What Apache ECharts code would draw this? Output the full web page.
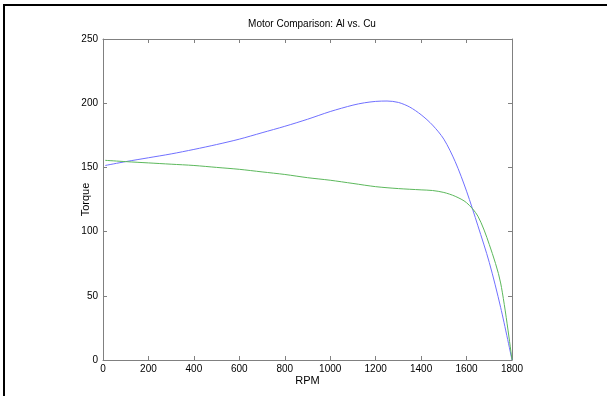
<!DOCTYPE html>
<html>
<head>
<meta charset="utf-8">
<script src="https://cdn.jsdelivr.net/npm/echarts@6/dist/echarts.min.js"></script>
<style>
html,body{margin:0;padding:0;background:#fff;}
#c{width:607px;height:396px;}
</style>
</head>
<body>
<div id="c"></div>
<script>
const rpmAl = [10,100,200,300,400,500,600,700,800,900,1000,1100,1150,1200,1250,1300,1350,1400,1450,1500,1550,1600,1650,1700,1750,1800];
const torqueAl = [151.5,154.5,157.5,160.5,164,167.8,172,177,182,187.5,193.5,198.5,200.3,201.4,201.7,200.6,197,191,183,172,154.5,131.5,104.5,76,41,0];
const rpmCu = [10,100,200,300,400,500,600,700,800,900,1000,1100,1200,1300,1400,1450,1500,1550,1600,1650,1700,1750,1800];
const torqueCu = [155.5,154.5,153.5,152.5,151.5,150,148.5,146.5,144.5,142,140,137.5,135,133.5,132.5,132,130.5,127.5,122.5,112,90,60,0];
const xTicks = {min:0, max:1800, interval:200};
const yTicks = {min:0, max:250, interval:50};

const chart = echarts.init(document.getElementById('c'), null, {renderer:'canvas'});
const font = 'Liberation Sans, Arial, Helvetica, sans-serif';
const axisGray = '#808080';
function xa(pos, showLabel, name){
  return {type:'value', position:pos, min:xTicks.min, max:xTicks.max, interval:xTicks.interval,
    name: name || '', nameLocation:'middle', nameGap:15, nameMoveOverlap:false,
    nameTextStyle:{color:'#000', fontSize:11, fontFamily:font},
    axisLine:{show:true, onZero:false, lineStyle:{color:axisGray, width:1}},
    axisTick:{show:true, inside:true, length:4, lineStyle:{color:axisGray}},
    axisLabel:{show:showLabel, color:'#000', fontSize:10, fontFamily:font, margin:4, formatter:v=>String(v)},
    splitLine:{show:false}};
}
function ya(pos, showLabel, name){
  return {type:'value', position:pos, min:yTicks.min, max:yTicks.max, interval:yTicks.interval,
    name: name || '', nameLocation:'middle', nameGap:12, nameRotate:90, nameMoveOverlap:false,
    nameTextStyle:{color:'#000', fontSize:11, fontFamily:font},
    axisLine:{show:true, onZero:false, lineStyle:{color:axisGray, width:1}},
    axisTick:{show:true, inside:true, length:4, lineStyle:{color:axisGray}},
    axisLabel:{show:showLabel, color:'#000', fontSize:10, fontFamily:font, margin:5, formatter:v=>String(v)},
    splitLine:{show:false}};
}
chart.setOption({
  animation:false,
  backgroundColor:'#fff',
  title:{text:'Motor Comparison: Al vs. Cu', left:307, top:14, textAlign:'center',
    textStyle:{fontSize:10, fontWeight:'normal', color:'#000', fontFamily:font}},
  graphic:[{type:'rect', shape:{x:4, y:5, width:800, height:600}, style:{fill:'none', stroke:'#000', lineWidth:2}, silent:true, z:100}],
  grid:{left:103, right:95, top:39, bottom:36, containLabel:false},
  xAxis:[xa('bottom', true, 'RPM'), xa('top', false)],
  yAxis:[ya('left', true, 'Torque'), ya('right', false)],
  series:[
    {type:'line', xAxisIndex:0, yAxisIndex:0, data:rpmAl.map((r,i)=>[r,torqueAl[i]]), showSymbol:false, smooth:0.3,
      lineStyle:{color:'#7070ff', width:1}},
    {type:'line', xAxisIndex:0, yAxisIndex:0, data:rpmCu.map((r,i)=>[r,torqueCu[i]]), showSymbol:false, smooth:0.3,
      lineStyle:{color:'#5cb85c', width:1}}
  ]
});
</script>
</body>
</html>
